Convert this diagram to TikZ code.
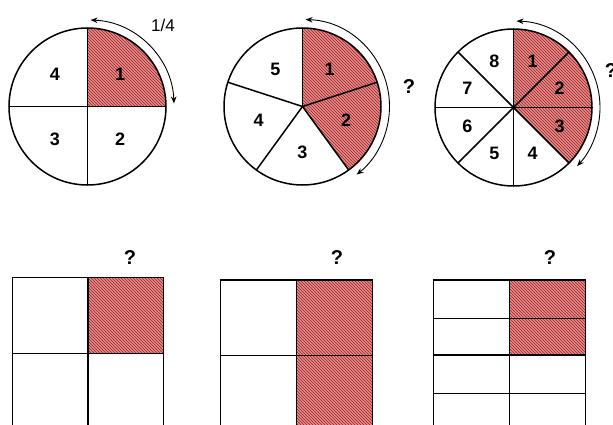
\documentclass[tikz,border=0pt]{standalone}
\usepackage{fontspec}
\setmainfont{Liberation Sans}
\usetikzlibrary{patterns,arrows.meta}
\definecolor{pinkfill}{RGB}{226,140,140}
\definecolor{hatch}{RGB}{160,35,35}
\begin{document}
\begin{tikzpicture}[x=1pt,y=1pt,
  outline/.style={draw=black,line width=1.5pt},
  redpart/.style={fill=pinkfill,postaction={pattern=north west lines,pattern color=hatch}},
  num/.style={font=\bfseries\fontsize{18}{18}\selectfont,inner sep=0pt},
  qmark/.style={font=\bfseries\fontsize{20}{20}\selectfont,inner sep=0pt},
  frac/.style={font=\fontsize{17}{17}\selectfont,inner sep=0pt},
  turn/.style={line width=0.9pt,{Stealth[length=7pt,width=5.5pt]}-{Stealth[length=7pt,width=5.5pt]}}]
\useasboundingbox (0,0) rectangle (613,424);

% ---------- circle 1 (quarters)
\coordinate (c1) at (87.5,317.5);
\fill[redpart] (c1) -- ++(90:78.5) arc[start angle=90,end angle=0,radius=78.5] -- cycle;
\draw[outline] (c1) circle[radius=78.5];
\foreach \a in {90,0,-90,180} \draw[outline] (c1) -- ++(\a:78.5);
\foreach \i/\a in {1/45,2/-45,3/-135,4/135}
  \node[num] (ca\i) at ([shift={(\a:46)}]c1) {\i};
\draw[turn] ([shift={(88:86.5)}]c1) arc[start angle=88,end angle=2,radius=86.5];
\node[frac] (quarter) at (163,399) {1/4};

% ---------- circle 2 (fifths)
\coordinate (c2) at (302.5,317.5);
\fill[redpart] (c2) -- ++(90:78.5) arc[start angle=90,end angle=-54,radius=78.5] -- cycle;
\draw[outline] (c2) circle[radius=78.5];
\foreach \a in {90,18,-54,-126,162} \draw[outline] (c2) -- ++(\a:78.5);
\foreach \i/\a in {1/54,2/-18,3/-90,4/-162,5/126}
  \node[num] (cb\i) at ([shift={(\a:46)}]c2) {\i};
\draw[turn] ([shift={(88:87)}]c2) arc[start angle=88,end angle=-51.5,radius=87];
\node[qmark] (qa) at (409,337) {?};

% ---------- circle 3 (eighths)
\coordinate (c3) at (513.5,316.5);
\fill[redpart] (c3) -- ++(90:78.5) arc[start angle=90,end angle=-45,radius=78.5] -- cycle;
\draw[outline] (c3) circle[radius=78.5];
\foreach \a in {90,45,0,-45,-90,-135,180,135} \draw[outline] (c3) -- ++(\a:78.5);
\foreach \i/\a in {1/67.5,2/22.5,3/-22.5,4/-67.5,5/-112.5,6/-157.5,7/157.5,8/112.5}
  \node[num] (cc\i) at ([shift={(\a:50)}]c3) {\i};
\draw[turn] ([shift={(88:86.5)}]c3) arc[start angle=88,end angle=-42.6,radius=86.5];
\node[qmark] (qb) at (611,353) {?};

% ---------- rectangle 1
\fill[redpart] (88,70.7) rectangle (163.5,146.7);
\draw[outline] (12.5,-8) -- (12.5,146.7) -- (163.5,146.7) -- (163.5,-8);
\draw[outline] (88,-8) -- (88,146.7);
\draw[outline] (12.5,70.7) -- (163.5,70.7);
\node[qmark] (qc) at (130,166) {?};

% ---------- rectangle 2
\fill[redpart] (296.5,-8) rectangle (372.5,144);
\draw[outline] (220.5,-8) -- (220.5,144) -- (372.5,144) -- (372.5,-8);
\draw[outline] (296.5,-8) -- (296.5,144);
\draw[outline] (220.5,68.3) -- (372.5,68.3);
\node[qmark] (qd) at (337,166) {?};

% ---------- rectangle 3
\fill[redpart] (509.5,69) rectangle (585.5,144);
\draw[outline] (433.5,-8) -- (433.5,144) -- (585.5,144) -- (585.5,-8);
\draw[outline] (509.5,-8) -- (509.5,144);
\foreach \y in {105.7,69,30.5} \draw[outline] (433.5,\y) -- (585.5,\y);
\node[qmark] (qe) at (550,166) {?};
\end{tikzpicture}
\end{document}
